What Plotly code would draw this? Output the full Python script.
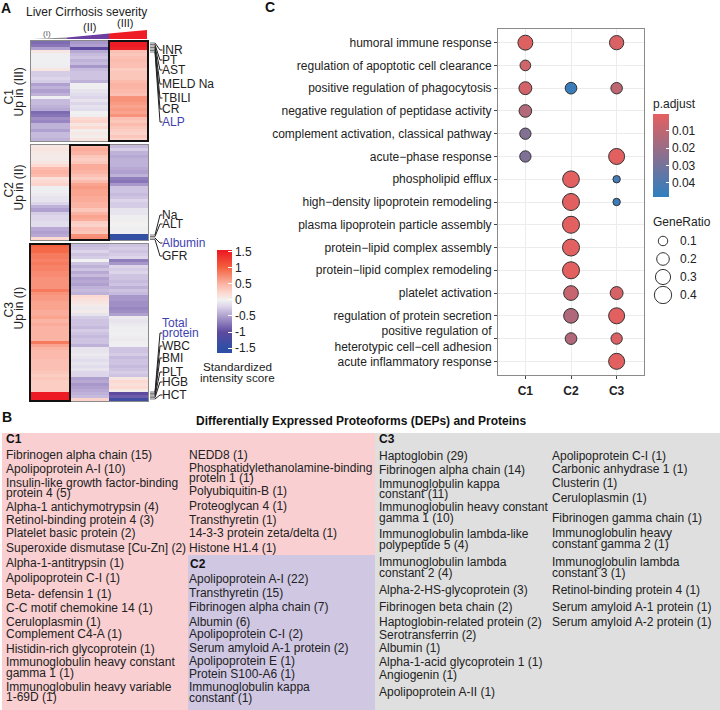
import plotly.graph_objects as go

# ---------- Panel A data ----------
C1_I = [-0.8,-0.75,-0.5,0.1,-0.02,-0.02,-0.02,-0.02,-0.03,0.1,-0.25,-0.25,-0.2,-0.25,-0.5,-0.4,-0.5,-0.4,-0.02,-0.35,-0.35,-0.4,-0.45,-0.8,-0.75,-0.6,-0.65,-0.4,-0.4,-0.5,-0.35,-0.35,-0.4]
C1_II = [-0.55,-0.5,-1.0,-0.45,-0.35,-0.3,-0.4,-0.35,-0.55,-0.35,-0.3,-0.3,-0.3,-0.4,-0.02,-0.03,-0.1,-0.15,-0.2,-0.1,-0.2,-0.12,-0.15,0.0,-0.02,0.2,0.25,0.1,0.2,0.03,0.08,0.03,0.12]
C1_III = [1.5,1.5,1.45,0.4,0.35,0.4,0.45,0.4,0.4,0.3,0.35,0.35,0.35,0.45,0.5,0.5,0.45,0.4,0.7,0.7,0.65,0.6,0.65,0.6,0.7,0.4,0.35,0.45,0.35,0.3,0.25,0.35,0.25]
C2_I = [0.1,0.12,0.08,0.05,0.05,0.1,0.2,0.45,0.5,0.45,0.15,0.2,0.25,-0.03,-0.03,-0.05,-0.1,-0.1,-0.2,-0.4,-0.5,-0.25,-0.2,-0.2,-0.15,-0.15,-0.45,-0.5,-0.45,0.2]
C2_II = [0.5,0.55,0.5,0.35,0.3,0.35,0.55,0.55,0.5,0.4,0.3,0.45,0.6,0.65,0.6,0.6,0.55,0.55,0.5,0.5,0.35,0.5,0.6,0.55,0.3,0.25,0.4,0.35,0.7,0.75]
C2_III = [-0.35,-0.25,-0.4,-0.45,-0.4,-0.4,-0.4,-0.45,-0.5,-0.4,-0.7,-0.75,-0.55,-0.3,-0.3,-0.35,-0.3,-0.2,-0.25,-0.25,-0.1,-0.1,-0.03,-0.03,0.02,0.0,-0.03,-0.02,-1.45,-1.45]
C3_I = [1.0,0.95,0.95,0.85,0.85,0.8,0.85,0.8,0.8,0.75,0.75,0.7,0.7,0.7,0.7,0.85,0.7,0.65,0.65,0.6,0.6,0.6,0.55,0.55,0.6,0.5,0.55,0.5,0.5,0.5,0.5,0.5,0.85,0.6,0.5,0.45,0.45,0.45,0.4,0.4,0.4,0.4,0.35,0.3,0.35,0.3,0.3,0.3,0.3,1.5,1.5,1.5]
C3_II = [-0.35,-0.3,-0.2,-0.3,-0.25,0.0,-0.3,-0.4,-0.3,-0.45,-0.35,-0.5,-0.45,-0.5,-0.4,-0.35,-0.4,0.2,0.15,0.1,0.05,-0.05,0.05,-0.1,-0.25,-0.3,-0.3,-0.35,-0.25,-0.3,-0.35,-0.3,-0.3,-0.4,-0.1,-0.1,-0.05,-0.1,-0.15,-0.1,-0.15,-0.1,-0.2,-0.2,-0.5,-0.45,-0.55,-0.5,-0.45,-0.4,-0.35,0.25]
C3_III = [-0.3,-0.25,-0.3,-0.25,-0.2,-0.7,-0.55,-0.2,-0.25,-0.2,-0.3,-0.3,-0.35,-0.3,-0.4,-0.3,-0.35,-0.55,-0.55,-0.6,-0.6,-0.65,-0.6,-0.5,-0.05,-0.1,-0.05,-0.03,-0.03,-0.02,-0.03,-0.05,-0.03,-0.02,-0.3,-0.3,-0.25,-0.35,-0.3,-0.3,-0.35,-0.3,-0.25,-0.3,0.1,0.2,0.15,0.2,0.05,-1.0,-0.9,-1.3]
SEVERITY = ["(I)", "(II)", "(III)"]
HEAT_TICKS = [-1.5, -1, -0.5, 0, 0.5, 1, 1.5]
HEAT_TICK_TEXT = ["-1.5", "-1", "-0.5", "0", "0.5", "1", "1.5"]

# ---------- Panel C data ----------
TERMS = ["humoral immune response", "regulation of apoptotic cell clearance",
         "positive regulation of phagocytosis", "negative regulation of peptidase activity",
         "complement activation, classical pathway", "acute\u2212phase response",
         "phospholipid efflux", "high\u2212density lipoprotein remodeling",
         "plasma lipoprotein particle assembly", "protein\u2212lipid complex assembly",
         "protein\u2212lipid complex remodeling", "platelet activation",
         "regulation of protein secretion",
         "positive regulation of<br>heterotypic cell\u2212cell adhesion",
         "acute inflammatory response"]
CLUSTERS = ["C1", "C2", "C3"]
P_C1 = [0.002,0.006,0.005,0.0135,0.026,0.027,None,None,None,None,None,None,None,None,None]
P_C2 = [None,None,0.045,None,None,None,0.001,0.001,0.001,0.001,0.001,0.0085,0.0145,0.014,None]
P_C3 = [0.003,None,0.0105,None,None,0.001,0.043,0.045,None,None,None,0.004,0.001,0.003,0.001]
R_C1 = [0.29,0.135,0.21,0.2,0.154,0.154,None,None,None,None,None,None,None,None,None]
R_C2 = [None,None,0.167,None,None,None,0.37,0.385,0.385,0.385,0.385,0.28,0.28,0.167,None]
R_C3 = [0.263,None,0.16,None,None,0.337,0.05,0.05,None,None,None,0.21,0.337,0.154,0.337]
P_TICKS = [0.01, 0.02, 0.03, 0.04]
RATIO_LEGEND = [0.1, 0.2, 0.3, 0.4]

# ---------- Panel B data ----------
B_C1_A = ["Fibrinogen alpha chain (15)","Apolipoprotein A-I (10)","Insulin-like growth factor-binding","protein 4 (5)",
          "Alpha-1 antichymotrypsin (4)","Retinol-binding protein 4 (3)","Platelet basic protein (2)","Superoxide dismutase [Cu-Zn] (2)",
          "Alpha-1-antitrypsin (1)","Apolipoprotein C-I (1)","Beta- defensin 1 (1)","C-C motif chemokine 14 (1)","Ceruloplasmin (1)",
          "Complement C4-A (1)","Histidin-rich glycoprotein (1)","Immunoglobulin heavy constant","gamma 1 (1)",
          "Immunoglobulin heavy variable","1-69D (1)"]
B_C1_A_Z = [150,192,235,265,305,345,385,428,474,518,566,610,650,688,732,772,803,846,877]
B_C1_B = ["NEDD8 (1)","Phosphatidylethanolamine-binding","protein 1 (1)","Polyubiquitin-B (1)","Proteoglycan 4 (1)","Transthyretin (1)",
          "14-3-3 protein zeta/delta (1)","Histone H1.4 (1)"]
B_C1_B_Z = [150,188,220,258,303,345,385,428]
B_C2 = ["Apolipoprotein A-I (22)","Transthyretin (15)","Fibrinogen alpha chain (7)","Albumin (6)","Apolipoprotein C-I (2)",
        "Serum amyloid A-1 protein (2)","Apolipoprotein E (1)","Protein S100-A6 (1)","Immunoglobulin kappa","constant (1)"]
B_C2_Z = [522,565,605,650,688,730,768,807,846,878]
B_C3_A = ["Haptoglobin (29)","Fibrinogen alpha chain (14)","Immunoglobulin kappa","constant (11)","Immunoglobulin heavy constant","gamma 1 (10)",
          "Immunoglobulin lambda-like","polypeptide 5 (4)","Immunoglobulin lambda","constant 2 (4)","Alpha-2-HS-glycoprotein (3)",
          "Fibrinogen beta chain (2)","Haptoglobin-related protein (2)","Serotransferrin (2)","Albumin (1)","Alpha-1-acid glycoprotein 1 (1)",
          "Angiogenin (1)","Apolipoprotein A-II (1)"]
B_C3_A_Z = [152,195,237,268,307,338,388,420,472,505,555,605,652,690,730,770,810,862]
B_C3_B = ["Apolipoprotein C-I (1)","Carbonic anhydrase 1 (1)","Clusterin (1)","Ceruloplasmin (1)","Fibrinogen gamma chain (1)",
          "Immunoglobulin heavy","constant gamma 2 (1)","Immunoglobulin lambda","constant 3 (1)","Retinol-binding protein 4 (1)",
          "Serum amyloid A-1 protein (1)","Serum amyloid A-2 protein (1)"]
B_C3_B_Z = [152,192,233,278,338,385,418,472,505,555,605,652]

W, H = 720, 710
FONT = "Liberation Sans, Arial, sans-serif"
INK = "#222222"
X = lambda x: x / W
Y = lambda y: 1 - y / H

anns, shapes = [], []

def text(x, y, s, size=12, color=INK, anchor="left", bold=False, angle=0):
    anns.append(dict(xref="paper", yref="paper", x=X(x), y=Y(y), text=f"<b>{s}</b>" if bold else s,
                     showarrow=False, xanchor=anchor, yanchor="middle", align="center",
                     borderpad=0, borderwidth=0, textangle=angle,
                     font=dict(family=FONT, size=size, color=color)))

def seg(x0, y0, x1, y1, color="#222222", width=1):
    shapes.append(dict(type="line", xref="paper", yref="paper", x0=X(x0), y0=Y(y0), x1=X(x1), y1=Y(y1),
                       line=dict(color=color, width=width)))

def rect(x0, y0, x1, y1, fill=None, line=None, width=1, layer="above"):
    shapes.append(dict(type="rect", xref="paper", yref="paper", x0=X(x0), y0=Y(y0), x1=X(x1), y1=Y(y1),
                       fillcolor=fill or "rgba(0,0,0,0)", layer=layer,
                       line=dict(color=line or "rgba(0,0,0,0)", width=width if line else 0)))

def poly(pts, fill):
    d = "M" + " L".join(f"{X(a):.5f},{Y(b):.5f}" for a, b in pts) + " Z"
    shapes.append(dict(type="path", xref="paper", yref="paper", path=d, fillcolor=fill, line=dict(width=0)))

fig = go.Figure()

# ---------- heatmaps ----------
HEAT_L, HEAT_R = 31, 148
heat_boxes = [(41, 141, (C1_I, C1_II, C1_III)), (145, 240, (C2_I, C2_II, C2_III)), (244, 401, (C3_I, C3_II, C3_III))]
layout_axes = {}
for i, (top, bot, cols) in enumerate(heat_boxes, start=1):
    z = [list(r) for r in zip(*cols)]
    fig.add_trace(go.Heatmap(z=z, x=SEVERITY, y=list(range(len(z))), coloraxis="coloraxis",
                             xaxis=f"x{i}", yaxis=f"y{i}", hoverinfo="skip"))
    layout_axes[f"xaxis{i}"] = dict(domain=[X(HEAT_L), X(HEAT_R)], anchor=f"y{i}", showticklabels=False, ticks="",
                                    showgrid=False, zeroline=False, showline=True, mirror=True, linecolor="#8a8a8a", linewidth=1)
    layout_axes[f"yaxis{i}"] = dict(domain=[Y(bot), Y(top)], anchor=f"x{i}", range=[len(z) - 0.5, -0.5], showticklabels=False,
                                    ticks="", showgrid=False, zeroline=False, showline=True, mirror=True, linecolor="#8a8a8a", linewidth=1)

# ---------- dot plot ----------
def dsize(r):
    return (20 + 700 * r) ** 0.5

dx, dy, dp, dr = [], [], [], []
for cl, ps, rs in zip(CLUSTERS, (P_C1, P_C2, P_C3), (R_C1, R_C2, R_C3)):
    for term, p, r in zip(TERMS, ps, rs):
        if p is not None:
            dx.append(cl); dy.append(term); dp.append(p); dr.append(r)

fig.add_trace(go.Scatter(
    x=dx, y=dy, mode="markers", xaxis="x4", yaxis="y4", hoverinfo="skip", showlegend=False,
    marker=dict(size=[dsize(r) for r in dr], sizemode="diameter", color=[-p for p in dp], opacity=1,
                colorscale=[[0, "#2F7FC1"], [1, "#E5605E"]], cmin=-0.0482, cmax=-0.0002,
                line=dict(color="#333333", width=1),
                colorbar=dict(x=X(653), xanchor="left", y=Y(114), yanchor="top", lenmode="pixels", len=83,
                              thicknessmode="pixels", thickness=16, xpad=0, ypad=0, outlinewidth=0,
                              ticks="inside", ticklen=3, tickcolor="white", tickmode="array",
                              tickvals=[-t for t in P_TICKS], ticktext=[str(t) for t in P_TICKS],
                              tickfont=dict(family=FONT, size=12, color=INK)))))
layout_axes["xaxis4"] = dict(domain=[X(498), X(644)], anchor="y4", type="category", categoryorder="array", categoryarray=CLUSTERS,
                             range=[-0.6, 2.6], showline=True, mirror=True, linecolor="#8a8a8a", linewidth=1,
                             gridcolor="#ECECEC", gridwidth=1, ticks="outside", ticklen=3, tickcolor="#444444", zeroline=False,
                             ticklabelstandoff=2,
                             tickfont=dict(family=FONT, size=12, color=INK), tickprefix="<b>", ticksuffix="</b>")
layout_axes["yaxis4"] = dict(domain=[Y(375), Y(29)], anchor="x4", type="category", categoryorder="array", categoryarray=TERMS,
                             tickmode="array", tickvals=TERMS, ticktext=TERMS,
                             range=[14.6, -0.6], showline=True, mirror=True, linecolor="#8a8a8a", linewidth=1,
                             gridcolor="#ECECEC", gridwidth=1, ticks="outside", ticklen=3, tickcolor="#444444", zeroline=False,
                             tickfont=dict(family=FONT, size=12, color=INK))

# ---------- GeneRatio size legend ----------
ratio_labels = [str(r) for r in RATIO_LEGEND]
fig.add_trace(go.Scatter(x=[0] * 4, y=ratio_labels, mode="markers", xaxis="x5", yaxis="y5", hoverinfo="skip", showlegend=False,
                         marker=dict(size=[dsize(r) for r in RATIO_LEGEND], color="white", opacity=1, line=dict(color="#333333", width=1))))
layout_axes["xaxis5"] = dict(domain=[X(650), X(679)], anchor="y5", range=[-13, 16], visible=False)
layout_axes["yaxis5"] = dict(domain=[Y(304), Y(232)], anchor="x5", type="category", categoryorder="array", categoryarray=ratio_labels,
                             range=[3.5, -0.5], side="right", showline=False, showgrid=False, zeroline=False, ticks="",
                             tickfont=dict(family=FONT, size=12, color=INK))

# ---------- Panel A decoration ----------
text(1, 8, "A", 14, "#111111", bold=True)
text(86, 12, "Liver Cirrhosis severity", 12, anchor="center")
text(47, 33, "(I)", 8, "#555555", anchor="center")
text(89, 27, "(II)", 11, anchor="center")
text(126, 23, "(III)", 11, anchor="center")
poly([(33, 39), (67, 39), (67, 37.5)], "#8a8a8a")
poly([(67, 39), (109, 39), (109, 33.5), (67, 37.5)], "#6A3FA0")
poly([(109, 39), (147, 39), (147, 30), (109, 33.5)], "#EE1C25")

rect(109, 41, 148, 141, line="#111111", width=2)
rect(70, 145, 109, 240, line="#111111", width=2)
rect(30, 244, 70, 401, line="#111111", width=2)

text(8.5, 97, "C1", 12, anchor="center", angle=-90)
text(18.5, 92, "Up in (III)", 12, anchor="center", angle=-90)
text(8.5, 190, "C2", 12, anchor="center", angle=-90)
text(18.5, 188, "Up in (II)", 12, anchor="center", angle=-90)
text(8.5, 310, "C3", 12, anchor="center", angle=-90)
text(18.5, 308, "Up in (I)", 12, anchor="center", angle=-90)

def fan(ycomb0, ystep, names, colors=None):
    for k, (name, ly) in enumerate(names):
        yc = ycomb0 + k * ystep
        seg(150, yc, 155, yc, "#555555", 0.8)
        seg(155, yc, 160, ly, "#222222", 1)
        seg(160, ly, 162.5, ly, "#222222", 1)
        c = "#3F3FB0" if colors and name in colors else INK
        if name:
            text(162, ly, name, 12, c)

fan(43, 1.5, [("INR", 50), ("PT", 60), ("AST", 70), ("MELD Na", 84), ("TBILI", 98), ("CR", 109), ("ALP", 122)], {"ALP"})
fan(235, 1.5, [("Na", 215), ("ALT", 224), ("Albumin", 243), ("GFR", 256)], {"Albumin"})
fan(392, 1.4, [("protein", 333), ("WBC", 346), ("BMI", 358), ("PLT", 372), ("HGB", 382), ("HCT", 395)], {"protein"})
text(162, 323, "Total", 12, "#3F3FB0")

text(237, 366, "Standardized", 11.7, anchor="center")
text(237, 378, "intensity score", 11.7, anchor="center")

# ---------- Panel C decoration ----------
text(265, 7, "C", 14, "#111111", bold=True)
text(653, 104, "p.adjust", 12)
text(653, 222, "GeneRatio", 12)

# ---------- Panel B ----------
text(2, 417, "B", 14, "#111111", bold=True)
text(361, 421, "Differentially Expressed Proteoforms (DEPs) and Proteins", 12, "#111111", anchor="center", bold=True)
rect(2, 433, 375, 710, fill="#F9CFD1", layer="below")
rect(188, 555, 375, 710, fill="#D0C7E2", layer="below")
rect(375, 433, 720, 710, fill="#DFDFDF", layer="below")
text(6, 439, "C1", 12, "#111111", bold=True)
text(190, 564, "C2", 12, "#111111", bold=True)
text(379, 439, "C3", 12, "#111111", bold=True)

for lst, zs, px in [(B_C1_A, B_C1_A_Z, 6), (B_C1_B, B_C1_B_Z, 188.5), (B_C2, B_C2_Z, 188.5),
                    (B_C3_A, B_C3_A_Z, 378.5), (B_C3_B, B_C3_B_Z, 552)]:
    for s, z in zip(lst, zs):
        text(px, 405 + z / 3, s, 12)

fig.update_layout(
    width=W, height=H, autosize=False, margin=dict(l=0, r=0, t=0, b=0),
    paper_bgcolor="white", plot_bgcolor="white", showlegend=False,
    font=dict(family=FONT, color=INK),
    coloraxis=dict(cmin=-1.65, cmax=1.55,
                   colorscale=[[(v + 1.65) / 3.2, c] for v, c in
                               [(-1.65, "#2E4FA5"), (-1.5, "#2E4FA5"), (-1.0, "#5E4A9F"), (-0.5, "#AFA0CF"), (-0.2, "#DDD6EA"),
                                (0.0, "#F1F1F1"), (0.2, "#FCDAD2"), (0.5, "#FBB3A3"), (1.0, "#F4613F"), (1.5, "#ED1C24"), (1.55, "#ED1C24")]],
                   colorbar=dict(x=X(217), xanchor="left", y=Y(250), yanchor="top", lenmode="pixels", len=103,
                                 thicknessmode="pixels", thickness=15, xpad=0, ypad=0, outlinewidth=0,
                                 ticks="inside", ticklen=4, tickcolor="white", tickmode="array",
                                 tickvals=HEAT_TICKS, ticktext=HEAT_TICK_TEXT,
                                 tickfont=dict(family=FONT, size=12, color=INK))),
    annotations=anns, shapes=shapes, **layout_axes)

fig.write_html("out.html", config={"displayModeBar": False},
               post_script="document.body.style.margin='0';document.body.style.overflow='hidden';")
